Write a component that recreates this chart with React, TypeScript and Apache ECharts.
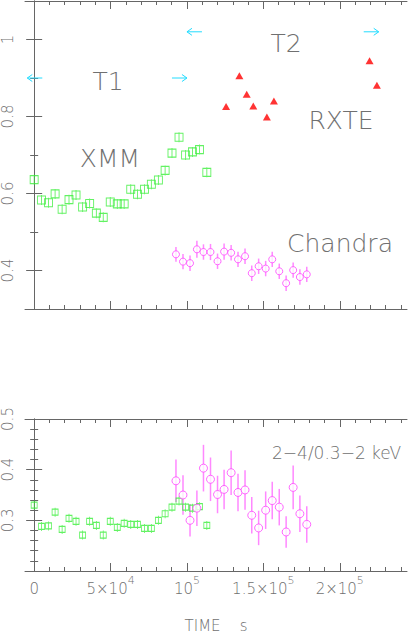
import React, { useEffect, useRef } from "react";
import * as echarts from "echarts";

// ---------- data ----------
const xmmTime = [0, 4800, 9400, 13700, 18300, 22800, 27400, 31700, 36300, 40700, 45200, 49800, 54400, 58900, 63200, 67600, 72200, 76700, 81300, 85700, 90200, 94800, 99100, 103600, 108200, 113000];
const xmmFlux = [0.636, 0.583, 0.576, 0.599, 0.559, 0.584, 0.596, 0.565, 0.574, 0.549, 0.538, 0.578, 0.573, 0.573, 0.611, 0.598, 0.611, 0.624, 0.635, 0.66, 0.705, 0.746, 0.7, 0.708, 0.714, 0.655];
const xmmHardness = [0.33, 0.288, 0.289, 0.316, 0.282, 0.304, 0.298, 0.271, 0.298, 0.29, 0.271, 0.298, 0.286, 0.294, 0.292, 0.292, 0.284, 0.284, 0.3, 0.313, 0.326, 0.338, 0.326, 0.324, 0.327, 0.29];

const chandraTime = [92800, 97400, 102000, 106500, 110800, 115400, 120000, 124300, 128900, 133400, 138000, 142400, 146900, 151500, 155800, 160400, 164900, 169500, 173900, 178400];
const chandraFlux = [0.442, 0.423, 0.419, 0.455, 0.448, 0.448, 0.424, 0.449, 0.446, 0.429, 0.437, 0.393, 0.411, 0.405, 0.429, 0.398, 0.367, 0.401, 0.383, 0.39];
const chandraFluxErr = [0.019, 0.02, 0.02, 0.022, 0.02, 0.021, 0.02, 0.021, 0.02, 0.02, 0.02, 0.02, 0.02, 0.02, 0.02, 0.02, 0.02, 0.02, 0.02, 0.02];
const chandraHardness = [0.378, 0.35, 0.3, 0.324, 0.403, 0.381, 0.351, 0.361, 0.394, 0.355, 0.36, 0.31, 0.285, 0.32, 0.339, 0.326, 0.277, 0.365, 0.313, 0.292];
const chandraHardnessErr = [0.042, 0.039, 0.032, 0.035, 0.046, 0.043, 0.037, 0.039, 0.044, 0.037, 0.039, 0.036, 0.034, 0.037, 0.037, 0.036, 0.031, 0.043, 0.036, 0.036];

const rxteTime = [125600, 134300, 139100, 143400, 152300, 156900, 219500, 224300];
const rxteFlux = [0.826, 0.906, 0.858, 0.827, 0.799, 0.84, 0.945, 0.881];

// interval arrows: [start, end], level
const t1Range = [-4500, 100000];
const t1Level = 0.9;
const t2Range = [100000, 225500];
const t2Level = 1.02;

// axes
const xMin = -6000;
const xMax = 244000;
const xMajor = [0, 50000, 100000, 150000, 200000];
const xTickLabels = ["0", "5×10^4", "10^5", "1.5×10^5", "2×10^5"];
const xMinor: number[] = [];
for (let v = 10000; v <= 240000; v += 10000) if (v % 50000 !== 0) xMinor.push(v);

const yTopMin = 0.3;
const yTopMax = 1.1;
const yTopMajor = [0.4, 0.6, 0.8, 1.0];
const yTopTickLabels = ["0.4", "0.6", "0.8", "1"];
const yTopMinor = [0.5, 0.7, 0.9];

const yBotMin = 0.2;
const yBotMax = 0.5;
const yBotMajor = [0.3, 0.4];
const yBotLabelValues = [0.3, 0.4, 0.5];
const yBotTickLabels = ["0.3", "0.4", "0.5"];
const yBotMinor = [0.22, 0.24, 0.26, 0.28, 0.32, 0.34, 0.36, 0.38, 0.42, 0.44, 0.46, 0.48];

// ---------- styles ----------
const FRAME = "#666666";
const TEXT = "#707070";
const FONT = "DejaVu Sans";
const WEIGHT = 200;
const GREEN = "#3bef3b";
const MAGENTA = "#ff44ff";
const MAGENTA_ERR = "#ff88ff";
const RED = "#ff0000";
const CYAN = "#22dcff";

function lookup(vals: number[], labels: string[], v: number) {
  const i = vals.findIndex((u) => Math.abs(u - v) < 1e-6);
  return i >= 0 ? labels[i] : "";
}

function xAxesFor(g: number, withLabels: boolean) {
  const base: any = {
    type: "value",
    gridIndex: g,
    min: xMin,
    max: xMax,
    splitLine: { show: false },
    axisLabel: { show: false },
  };
  const line = { show: true, lineStyle: { color: FRAME, width: 1 } };
  const major = { show: true, inside: true, length: 8, customValues: xMajor, lineStyle: { color: FRAME, width: 1 } };
  const minor = { show: true, inside: true, length: 4, customValues: xMinor, lineStyle: { color: FRAME, width: 1 } };
  const first: any = { ...base, position: "bottom", axisLine: line, axisTick: major };
  if (withLabels) {
    first.axisLabel = {
      show: true,
      customValues: xMajor,
      margin: 4,
      formatter: (v: number) => {
        const s = lookup(xMajor, xTickLabels, v);
        const m = s.match(/^(.*)\^(\d+)$/);
        if (m) return `{b|${m[1]}}{s|${m[2]}}`;
        return `{b|${s}}`;
      },
      rich: {
        b: { fontSize: 15, fontFamily: FONT, fontWeight: WEIGHT, color: TEXT, padding: [6, 0, 0, 0] },
        s: { fontSize: 11, fontFamily: FONT, fontWeight: WEIGHT, color: TEXT, padding: [0, 0, 10, 0] },
      },
    };
    first.name = "TIME    s";
    first.nameLocation = "middle";
    first.nameGap = 47;
    first.nameTextStyle = { fontSize: 15, fontFamily: FONT, fontWeight: WEIGHT, color: TEXT };
  }
  return [
    first,
    { ...base, position: "bottom", axisLine: { show: false }, axisTick: minor },
    { ...base, position: "top", axisLine: line, axisTick: major },
    { ...base, position: "top", axisLine: { show: false }, axisTick: minor },
  ];
}

function yAxesFor(g: number, min: number, max: number, major: number[], minor: number[], labelVals: number[], labels: string[]) {
  const base: any = {
    type: "value",
    gridIndex: g,
    min,
    max,
    splitLine: { show: false },
    axisLabel: { show: false },
  };
  const line = { show: true, lineStyle: { color: FRAME, width: 1 } };
  const majorT = { show: true, inside: true, length: 8, customValues: major, lineStyle: { color: FRAME, width: 1 } };
  const minorT = { show: true, inside: true, length: 4, customValues: minor, lineStyle: { color: FRAME, width: 1 } };
  return [
    {
      ...base,
      position: "left",
      axisLine: line,
      axisTick: majorT,
      axisLabel: {
        show: true,
        customValues: labelVals,
        rotate: 90,
        margin: 10,
        fontSize: 15,
        fontFamily: FONT,
        fontWeight: WEIGHT,
        color: TEXT,
        formatter: (v: number) => lookup(labelVals, labels, v),
      },
    },
    { ...base, position: "left", axisLine: { show: false }, axisTick: minorT },
    { ...base, position: "right", axisLine: line, axisTick: majorT },
    { ...base, position: "right", axisLine: { show: false }, axisTick: minorT },
  ];
}

const errorBarRender = (params: any, api: any) => {
  const x = api.value(0);
  const y = api.value(1);
  const e = api.value(2);
  const p1 = api.coord([x, y - e]);
  const p2 = api.coord([x, y + e]);
  return {
    type: "line",
    shape: { x1: p1[0], y1: p1[1], x2: p2[0], y2: p2[1] },
    style: { stroke: MAGENTA_ERR, lineWidth: 1.5 },
  };
};

const arrowRender = (params: any, api: any) => {
  const x = api.value(0);
  const y = api.value(1);
  const dir = api.value(2);
  const p = api.coord([x, y]);
  const len = 15;
  return {
    type: "group",
    children: [
      {
        type: "line",
        shape: { x1: p[0], y1: p[1], x2: p[0] - dir * len, y2: p[1] },
        style: { stroke: CYAN, lineWidth: 1 },
      },
      {
        type: "polyline",
        shape: { points: [[p[0] - dir * 5, p[1] - 3.5], [p[0], p[1]], [p[0] - dir * 5, p[1] + 3.5]] },
        style: { stroke: CYAN, lineWidth: 1, fill: "none" },
      },
    ],
  };
};

const squareTop = "path://M0,1 L8,1 L8,9 L0,9 Z M4,0 L4,10";
const squareBot = "path://M0,1.5 L6,1.5 L6,7.5 L0,7.5 Z M3,0 L3,9";

export default function App() {
  const ref = useRef<HTMLDivElement>(null);
  useEffect(() => {
    document.body.style.margin = "0";
    const chart = echarts.init(ref.current!, undefined, { renderer: "svg" });
    const arrows = [
      [t1Range[0], t1Level, -1],
      [t1Range[1], t1Level, 1],
      [t2Range[0], t2Level, -1],
      [t2Range[1], t2Level, 1],
    ];
    const annot = (text: string, x: number, y: number, size: number, align = "center") => ({
      type: "text",
      x,
      y,
      style: {
        text,
        fontSize: size,
        fontFamily: FONT,
        fontWeight: WEIGHT,
        fill: TEXT,
        textAlign: align,
        textVerticalAlign: "middle",
      },
    });
    chart.setOption({
      animation: false,
      backgroundColor: "#ffffff",
      grid: [
        { left: 24, right: 3, top: 1, height: 308 },
        { left: 24, right: 3, top: 419, height: 154 },
      ],
      xAxis: [...xAxesFor(0, false), ...xAxesFor(1, true)],
      yAxis: [
        ...yAxesFor(0, yTopMin, yTopMax, yTopMajor, yTopMinor, yTopMajor, yTopTickLabels),
        ...yAxesFor(1, yBotMin, yBotMax, yBotMajor, yBotMinor, yBotLabelValues, yBotTickLabels),
      ],
      series: [
        {
          type: "custom",
          name: "arrows",
          xAxisIndex: 0,
          yAxisIndex: 0,
          renderItem: arrowRender,
          data: arrows,
          silent: true,
        },
        {
          type: "scatter",
          name: "XMM",
          xAxisIndex: 0,
          yAxisIndex: 0,
          symbol: squareTop,
          symbolSize: [8, 10],
          itemStyle: { color: "rgba(0,0,0,0)", borderColor: GREEN, borderWidth: 1 },
          data: xmmTime.map((t, i) => [t, xmmFlux[i]]),
          silent: true,
        },
        {
          type: "custom",
          name: "Chandra err",
          xAxisIndex: 0,
          yAxisIndex: 0,
          renderItem: errorBarRender,
          data: chandraTime.map((t, i) => [t, chandraFlux[i], chandraFluxErr[i]]),
          silent: true,
        },
        {
          type: "scatter",
          name: "Chandra",
          xAxisIndex: 0,
          yAxisIndex: 0,
          symbol: "circle",
          symbolSize: 7,
          itemStyle: { color: "#ffffff", borderColor: MAGENTA, borderWidth: 1 },
          data: chandraTime.map((t, i) => [t, chandraFlux[i]]),
          silent: true,
        },
        {
          type: "scatter",
          name: "RXTE",
          xAxisIndex: 0,
          yAxisIndex: 0,
          symbol: "triangle",
          symbolSize: [8, 7],
          itemStyle: { color: RED },
          data: rxteTime.map((t, i) => [t, rxteFlux[i]]),
          silent: true,
        },
        {
          type: "scatter",
          name: "XMM ratio",
          xAxisIndex: 4,
          yAxisIndex: 4,
          symbol: squareBot,
          symbolSize: [6, 9],
          itemStyle: { color: "rgba(0,0,0,0)", borderColor: GREEN, borderWidth: 1 },
          data: xmmTime.map((t, i) => [t, xmmHardness[i]]),
          silent: true,
        },
        {
          type: "custom",
          name: "Chandra ratio err",
          xAxisIndex: 4,
          yAxisIndex: 4,
          renderItem: errorBarRender,
          data: chandraTime.map((t, i) => [t, chandraHardness[i], chandraHardnessErr[i]]),
          silent: true,
        },
        {
          type: "scatter",
          name: "Chandra ratio",
          xAxisIndex: 4,
          yAxisIndex: 4,
          symbol: "circle",
          symbolSize: 8,
          itemStyle: { color: "#ffffff", borderColor: MAGENTA, borderWidth: 1 },
          data: chandraTime.map((t, i) => [t, chandraHardness[i]]),
          silent: true,
        },
      ],
      graphic: [
        annot("T1", 108, 81, 25),
        annot("XMM", 110, 158, 25),
        annot("T2", 286, 43, 25),
        annot("RXTE", 341, 120, 25),
        annot("Chandra", 340, 243, 25),
        annot("2\u22124/0.3\u22122 keV", 272, 453, 17, "left"),
      ],
    });
    return () => chart.dispose();
  }, []);
  return <div ref={ref} style={{ width: 410, height: 634 }} />;
}
